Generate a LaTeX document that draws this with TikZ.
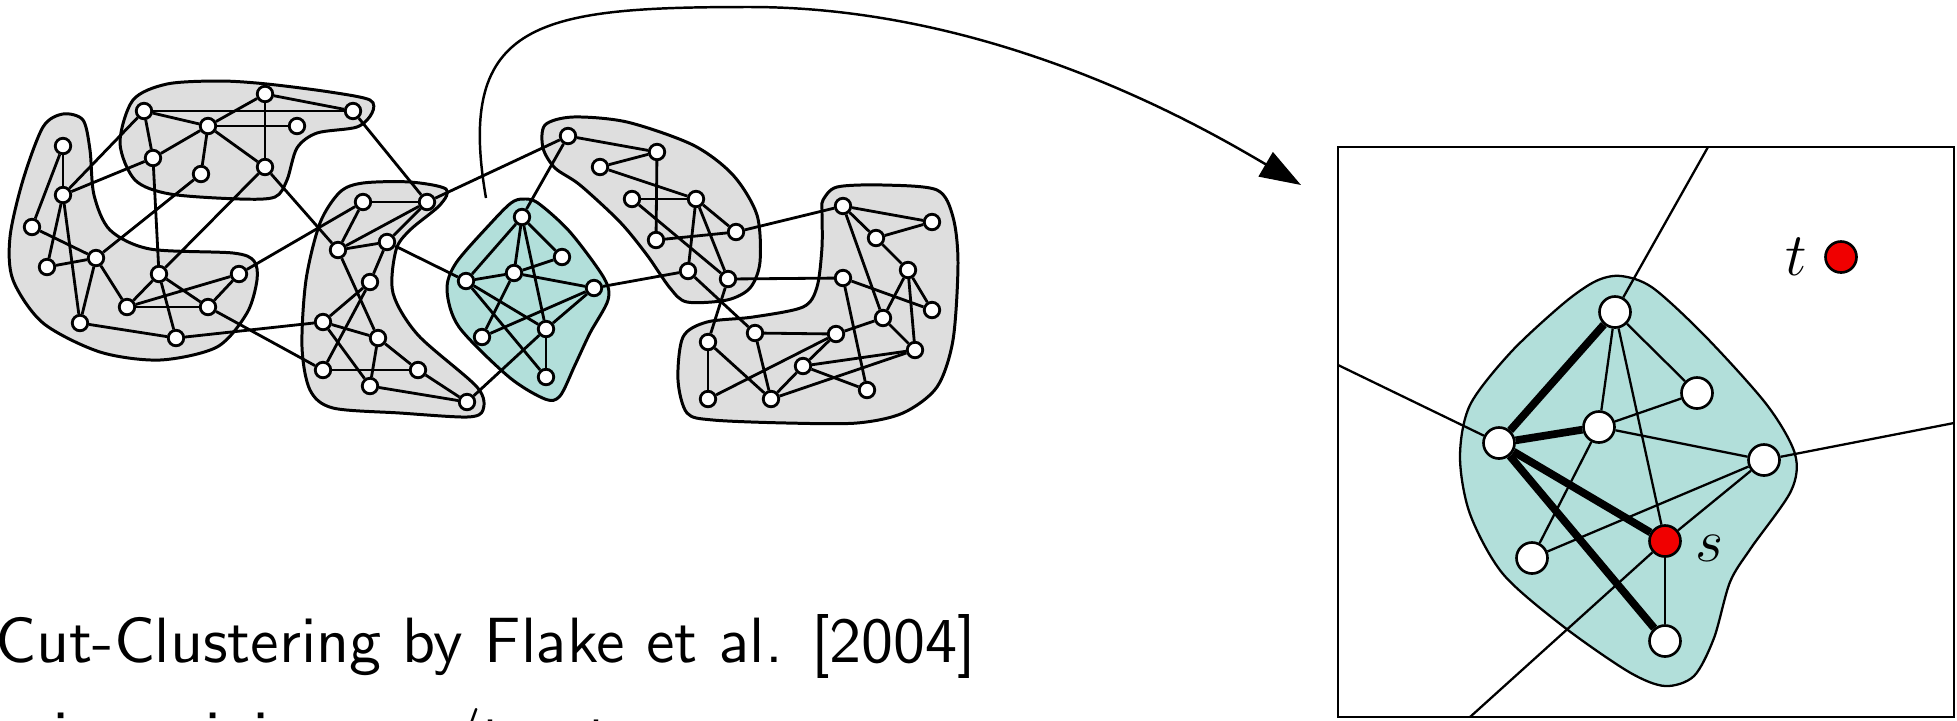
\documentclass[tikz,border=0pt]{standalone}
\usepackage{amsmath,amssymb}
\usepackage{xcolor}
\usepackage{tikz}
\usetikzlibrary{arrows.meta}

\definecolor{clgray}{RGB}{222,222,222}
\definecolor{clteal}{RGB}{178,223,218}
\definecolor{stred}{RGB}{240,0,0}
\font\capsf=cmss10 at 18.2pt

\begin{document}
\begin{tikzpicture}[x=0.01cm,y=-0.01cm,
  vx/.style={circle,draw,fill=white,line width=0.8pt,minimum size=0.155cm,inner sep=0pt},
  bvx/.style={circle,draw,fill=white,line width=0.75pt,minimum size=0.31cm,inner sep=0pt},
  ln/.style={line width=0.8pt},
  cl/.style={draw,line width=0.85pt,fill=clgray},
  bigfont/.style={font=\fontsize{17.6}{22}\selectfont},
  capfont/.style={font=\capsf,anchor=base west,inner sep=0pt}]
\clip (0,0) rectangle (1957,720);

% clusters of the whole graph
\draw[cl] plot[smooth cycle] coordinates {(120,143) (133,100) (167,84) (220,81) (267,84) (330,92) (370,100) (372,113) (357,127) (317,133) (297,148) (287,180) (275,197) (240,199) (170,194) (135,180)};
\draw[cl] plot[smooth cycle] coordinates {(63,114) (83,120) (90,150) (94,195) (110,230) (150,249) (233,253) (254,261) (257,280) (247,313) (217,347) (160,360) (100,352) (43,323) (13,280) (10,237) (23,180) (43,127)};
\draw[cl] plot[smooth cycle] coordinates {(363,183) (410,182) (446,189) (440,205) (410,230) (396,250) (393,293) (418,335) (477,387) (483,410) (467,417) (400,413) (333,408) (310,390) (302,347) (306,280) (320,223) (340,192)};
\draw[cl] plot[smooth cycle] coordinates {(545,125) (573,117) (627,122) (693,145) (733,175) (757,215) (760,262) (750,288) (727,300) (687,302) (670,288) (647,255) (620,222) (580,185) (555,168) (543,148)};
\draw[cl] plot[smooth cycle] coordinates {(823,200) (837,187) (883,185) (937,190) (953,217) (958,263) (953,340) (937,387) (903,413) (857,423) (787,423) (713,420) (687,413) (678,380) (683,337) (707,322) (753,317) (803,307) (817,287) (822,247) (822,210)};
\draw[cl,fill=clteal] plot[smooth cycle] coordinates {(523,199) (538,203) (570,232) (604,278) (608,300) (590,333) (575,365) (560,396) (545,399) (509,377) (459,327) (447,290) (456,263) (491,223) (511,203)};

\foreach \n/\x/\y in {a1/265/94,a2/144/111,a3/353/111,a4/208/126,a5/297/126,a6/153/158,a7/201/174,a8/265/167,
  b1/63/146,b2/63/195,b3/32/227,b4/47/267,b5/96/258,b6/159/274,b7/239/274,b8/127/307,b9/208/307,b10/80/323,b11/176/338,
  c1/363/202,c2/427/202,c3/338/250,c4/387/242,c5/370/282,c6/323/322,c7/378/338,c8/323/370,c9/418/370,c10/370/386,c11/467/402,
  d1/522/217,d2/562/257,d3/466/281,d4/514/273,d5/594/288,d6/482/337,d7/546/329,d8/546/377,
  e1/568/136,e2/657/152,e3/600/167,e4/632/199,e5/696/199,e6/736/232,e7/656/240,e8/688/271,e9/728/279,
  f1/843/206,f2/932/222,f3/876/238,f4/908/270,f5/843/278,f6/932/310,f7/883/318,f8/915/350,f9/755/333,
  f10/836/334,f11/708/342,f12/803/366,f13/708/399,f14/771/399,f15/867/390}
  \node[vx] (\n) at (\x,\y) {};

\foreach \u/\v in {a2/a3,a1/a3,a1/a4,a1/a8,a2/a4,a2/a6,a4/a5,a4/a6,a4/a7,a4/a8,
  a3/c2,a8/c3,a8/b6,a7/b5,a6/b2,a2/b2,a6/b6,
  b1/b2,b1/b3,b2/b4,b2/b10,b3/b5,b4/b5,b5/b10,b5/b8,b6/b8,b6/b9,b6/b11,b7/b8,b7/b9,b8/b9,b10/b11,
  b11/c6,b9/c8,b7/c1,
  c1/c2,c1/c3,c2/c3,c2/c4,c3/c4,c3/c7,c4/c5,c5/c6,c5/c8,c6/c7,c6/c10,c7/c10,c7/c9,c8/c9,c9/c11,c10/c11,
  c4/d3,c2/e1,c11/d7,
  d1/d2,d1/d3,d1/d4,d1/d7,d2/d4,d3/d4,d3/d7,d3/d8,d4/d5,d4/d6,d5/d6,d5/d7,d7/d8,d1/e1,d5/e8,
  e1/e2,e2/e3,e3/e5,e2/e7,e4/e5,e4/e9,e5/e6,e5/e8,e5/e9,e6/e7,
  e6/f1,e8/f9,e9/f5,e9/f11,
  f1/f2,f1/f3,f1/f7,f2/f3,f3/f4,f4/f6,f4/f7,f4/f8,f5/f6,f5/f15,f7/f8,f7/f10,f9/f10,f9/f14,
  f10/f12,f10/f13,f11/f13,f11/f14,f12/f8,f12/f14,f12/f15,f14/f8}
  \draw[ln] (\u) -- (\v);

% arrow to the blown-up cluster
\coordinate (arrstart) at (486,198);
\coordinate (arrtip) at (1301,185);
\draw[line width=0.7pt,-{Triangle[length=0.41cm,width=0.28cm]}] (arrstart) .. controls (455,20) and (540,7) .. (750,7) .. controls (1000,7) and (1209,131) .. (arrtip);

% blown-up cluster
\draw[line width=0.75pt] (1338,147) rectangle (1954,717);
\draw[line width=0.65pt,fill=clteal] plot[smooth cycle] coordinates {(1621,276) (1653,288) (1706,337) (1767,405) (1795,454) (1791,491) (1751,548) (1730,582) (1714,638) (1694,676) (1665,686) (1629,672) (1564,627) (1503,574) (1470,514) (1460,457) (1470,405) (1511,352) (1564,303) (1596,281)};

\foreach \n/\x/\y in {p1/1615/312,p2/1697/393,p3/1499/443,p4/1599/427,p5/1764/460,p6/1532/558,p8/1665/641}
  \node[bvx] (\n) at (\x,\y) {};
\node[bvx,fill=stred] (p7) at (1665,541) {};
\node[bvx,fill=stred] (t) at (1841,257) {};
\node[bigfont] at (1796,257) {$t$};
\node[bigfont] at (1709,548) {$s$};

\coordinate (o1) at (1708,147);
\coordinate (o3) at (1338,365);
\coordinate (o5) at (1954,423);
\coordinate (o7) at (1470,717);

\foreach \u/\v in {p1/p2,p1/p4,p1/p7,p2/p4,p4/p5,p4/p6,p5/p6,p5/p7,p7/p8,p1/o1,p3/o3,p5/o5,p7/o7}
  \draw[line width=0.65pt] (\u) -- (\v);
\foreach \u/\v in {p1/p3,p3/p4,p3/p7,p3/p8}
  \draw[line width=2.2pt] (\u) -- (\v);

\node[capfont] (cap) at (-5,662) {Cut-Clustering by Flake et al. [2004]};
\node[capfont] (cap2) at (-5,756) {using minimum s/t-cuts};
\end{tikzpicture}
\end{document}
